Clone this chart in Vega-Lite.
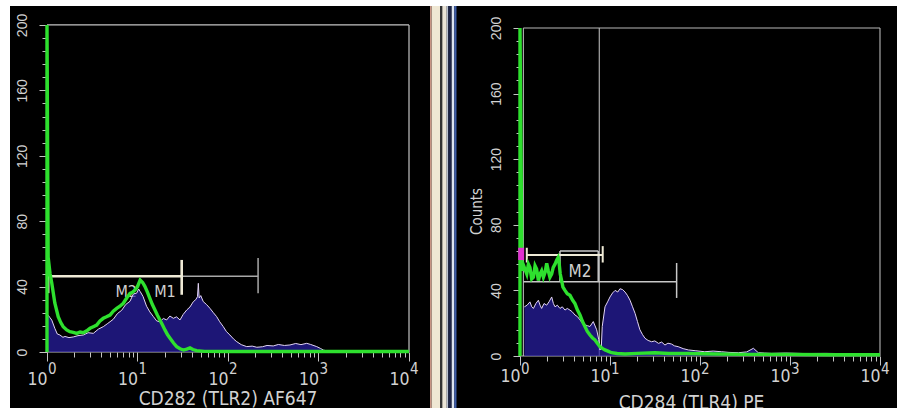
{
  "$schema": "https://vega.github.io/schema/vega-lite/v6.json",
  "background": "white",
  "padding": {"left": 10, "top": 6, "right": 0, "bottom": 0},
  "spacing": 0,
  "bounds": "flush",
  "config": {
    "font": "Liberation Sans Narrow, DejaVu Sans Condensed, Liberation Sans",
    "view": {"stroke": null, "fill": "black"},
    "axis": {"domain": false, "grid": false, "labelColor": "#d2d2d2", "tickColor": "#c4c4c4", "titleColor": "#d2d2d2", "titleFontWeight": "normal", "labelFlush": false, "labelOverlap": false, "labelBound": false}
  },
  "datasets": {
    "lblue": [
      {"x": 1.0, "y": 22}, {"x": 1.03, "y": 22.5}, {"x": 1.08, "y": 21}, {"x": 1.13, "y": 19.5}, {"x": 1.22, "y": 14.5}, {"x": 1.3, "y": 11}, {"x": 1.39, "y": 10.4}, {"x": 1.5, "y": 9}, {"x": 1.58, "y": 9.5}, {"x": 1.75, "y": 8.8}, {"x": 1.95, "y": 9.2}, {"x": 2.2, "y": 10}, {"x": 2.52, "y": 10.4}, {"x": 2.85, "y": 11.8}, {"x": 3.25, "y": 11.4}, {"x": 3.7, "y": 14}, {"x": 4.19, "y": 15.5}, {"x": 4.7, "y": 17.5}, {"x": 5.4, "y": 20}, {"x": 6.0, "y": 23.5}, {"x": 6.69, "y": 25.5}, {"x": 7.4, "y": 29}, {"x": 8.26, "y": 31}, {"x": 9.0, "y": 35.5}, {"x": 9.8, "y": 36}, {"x": 10.3, "y": 38.5}, {"x": 10.7, "y": 37}, {"x": 11.5, "y": 34}, {"x": 12.6, "y": 28}, {"x": 13.7, "y": 24.5}, {"x": 15.0, "y": 21.6}, {"x": 16.3, "y": 19}, {"x": 17.7, "y": 18.5}, {"x": 19.3, "y": 20.5}, {"x": 21.0, "y": 19.6}, {"x": 22.8, "y": 22}, {"x": 24.9, "y": 20.6}, {"x": 27, "y": 21.5}, {"x": 29.5, "y": 19.6}, {"x": 32, "y": 23}, {"x": 35, "y": 25.7}, {"x": 38, "y": 27.5}, {"x": 41.4, "y": 30.8}, {"x": 44, "y": 32}, {"x": 46, "y": 33.8}, {"x": 47, "y": 42}, {"x": 48, "y": 33}, {"x": 50, "y": 34.5}, {"x": 53.3, "y": 30.8}, {"x": 58, "y": 29}, {"x": 63.2, "y": 26.7}, {"x": 69, "y": 24}, {"x": 75, "y": 21.6}, {"x": 81, "y": 18.5}, {"x": 88.7, "y": 15.5}, {"x": 96, "y": 12.5}, {"x": 105, "y": 10.4}, {"x": 115, "y": 8}, {"x": 125, "y": 6.3}, {"x": 140, "y": 4.5}, {"x": 161, "y": 3.3}, {"x": 185, "y": 3.6}, {"x": 208, "y": 2.9}, {"x": 240, "y": 3.2}, {"x": 270, "y": 4}, {"x": 316, "y": 3.7}, {"x": 360, "y": 4.6}, {"x": 420, "y": 4.0}, {"x": 484, "y": 4.3}, {"x": 560, "y": 5.2}, {"x": 640, "y": 4.5}, {"x": 741, "y": 5.3}, {"x": 820, "y": 4.6}, {"x": 955, "y": 3.3}, {"x": 1050, "y": 2.2}, {"x": 1130, "y": 1.2}, {"x": 1340, "y": 0.2}, {"x": 2000, "y": 0.1}, {"x": 10000, "y": 0.1}
    ],
    "lgreen": [
      {"x": 1, "y": 0}, {"x": 1, "y": 200}, {"x": 1.03, "y": 58}, {"x": 1.08, "y": 48}, {"x": 1.13, "y": 42}, {"x": 1.22, "y": 30}, {"x": 1.33, "y": 21.6}, {"x": 1.42, "y": 18}, {"x": 1.51, "y": 15.5}, {"x": 1.65, "y": 13.5}, {"x": 1.79, "y": 12.4}, {"x": 1.95, "y": 12}, {"x": 2.13, "y": 11.4}, {"x": 2.32, "y": 12.2}, {"x": 2.52, "y": 11.8}, {"x": 2.75, "y": 13}, {"x": 2.99, "y": 14.5}, {"x": 3.25, "y": 15.5}, {"x": 3.54, "y": 16.5}, {"x": 3.85, "y": 19}, {"x": 4.19, "y": 20.6}, {"x": 4.55, "y": 21.5}, {"x": 4.97, "y": 22.6}, {"x": 5.4, "y": 25}, {"x": 5.89, "y": 26.7}, {"x": 6.4, "y": 28}, {"x": 6.97, "y": 29.8}, {"x": 7.6, "y": 33}, {"x": 8.26, "y": 35.9}, {"x": 8.8, "y": 36.5}, {"x": 9.4, "y": 37.9}, {"x": 10.0, "y": 40}, {"x": 10.7, "y": 44}, {"x": 11.4, "y": 42.5}, {"x": 12.1, "y": 40}, {"x": 12.9, "y": 36.5}, {"x": 13.7, "y": 32.8}, {"x": 14.6, "y": 29}, {"x": 15.6, "y": 25.7}, {"x": 16.6, "y": 22.5}, {"x": 17.7, "y": 19.6}, {"x": 18.9, "y": 16.5}, {"x": 20.1, "y": 13.5}, {"x": 21.5, "y": 10.5}, {"x": 22.9, "y": 8.4}, {"x": 25, "y": 5.5}, {"x": 27.1, "y": 3.3}, {"x": 29.5, "y": 2}, {"x": 32.2, "y": 1.2}, {"x": 35, "y": 1.8}, {"x": 38, "y": 2.5}, {"x": 41, "y": 1.5}, {"x": 45, "y": 0.8}, {"x": 55, "y": 0.4}, {"x": 100, "y": 0.3}, {"x": 1000, "y": 0.3}, {"x": 10000, "y": 0.3}
    ],
    "lsegs": [
      {"g": "frame", "x": 1, "y": 200, "x2": 10000, "y2": 200},
      {"g": "frame", "x": 10000, "y": 0, "x2": 10000, "y2": 200},
      {"g": "frame", "x": 1, "y": 0, "x2": 1, "y2": 200},
      {"g": "frame", "x": 1, "y": 0, "x2": 10000, "y2": 0},
      {"g": "gateA", "x": 1.03, "y": 46.3, "x2": 30.8, "y2": 46.3},
      {"g": "gateA", "x": 1.03, "y": 36, "x2": 1.03, "y2": 56},
      {"g": "gateA", "x": 30.8, "y": 35, "x2": 30.8, "y2": 56.3},
      {"g": "gateB", "x": 30.8, "y": 46.3, "x2": 215, "y2": 46.3},
      {"g": "gateB", "x": 215, "y": 36, "x2": 215, "y2": 57.5}
    ],
    "ltext": [
      {"x": 7.5, "y": 36.4, "t": "M2"},
      {"x": 20.1, "y": 36.4, "t": "M1"}
    ],
    "rblue": [
      {"x": 1.12, "y": 30}, {"x": 1.2, "y": 31}, {"x": 1.29, "y": 33}, {"x": 1.35, "y": 30}, {"x": 1.41, "y": 29}, {"x": 1.5, "y": 32}, {"x": 1.6, "y": 34}, {"x": 1.67, "y": 31}, {"x": 1.74, "y": 29}, {"x": 1.85, "y": 32}, {"x": 1.98, "y": 31}, {"x": 2.1, "y": 33}, {"x": 2.25, "y": 36}, {"x": 2.35, "y": 32}, {"x": 2.45, "y": 30}, {"x": 2.6, "y": 31}, {"x": 2.78, "y": 29}, {"x": 2.95, "y": 30}, {"x": 3.16, "y": 28}, {"x": 3.35, "y": 29}, {"x": 3.59, "y": 28}, {"x": 3.8, "y": 27}, {"x": 4.08, "y": 25}, {"x": 4.35, "y": 24}, {"x": 4.64, "y": 22}, {"x": 4.95, "y": 20}, {"x": 5.27, "y": 19}, {"x": 5.6, "y": 18.5}, {"x": 5.99, "y": 18}, {"x": 6.52, "y": 21}, {"x": 7.11, "y": 16}, {"x": 7.5, "y": 10}, {"x": 7.74, "y": 3.7}, {"x": 8.0, "y": 5}, {"x": 8.2, "y": 18}, {"x": 8.8, "y": 30}, {"x": 9.4, "y": 33}, {"x": 10, "y": 36}, {"x": 10.7, "y": 38.5}, {"x": 11.4, "y": 40}, {"x": 12.2, "y": 39}, {"x": 12.9, "y": 41}, {"x": 13.8, "y": 40.5}, {"x": 14.7, "y": 39}, {"x": 15.6, "y": 37}, {"x": 16.7, "y": 34}, {"x": 17.8, "y": 30}, {"x": 19, "y": 26}, {"x": 20.2, "y": 21}, {"x": 21.5, "y": 16}, {"x": 23, "y": 13}, {"x": 24.5, "y": 10.8}, {"x": 26.5, "y": 9.5}, {"x": 29, "y": 8.7}, {"x": 31.5, "y": 9.2}, {"x": 34.6, "y": 7.7}, {"x": 37.5, "y": 8.5}, {"x": 40.8, "y": 6.7}, {"x": 44, "y": 7.8}, {"x": 48.3, "y": 7.3}, {"x": 52, "y": 6.2}, {"x": 57.2, "y": 5.7}, {"x": 65, "y": 4.5}, {"x": 74.3, "y": 3.7}, {"x": 90, "y": 3.2}, {"x": 113, "y": 2.6}, {"x": 140, "y": 3}, {"x": 174, "y": 2.6}, {"x": 210, "y": 2.2}, {"x": 267, "y": 2}, {"x": 330, "y": 2.5}, {"x": 392, "y": 4.7}, {"x": 445, "y": 2}, {"x": 520, "y": 1.8}, {"x": 625, "y": 1.6}, {"x": 900, "y": 1.8}, {"x": 1460, "y": 1.5}, {"x": 2500, "y": 1.6}, {"x": 5000, "y": 1.4}, {"x": 10000, "y": 1.4}
    ],
    "rgreen": [
      {"x": 1, "y": 0}, {"x": 1, "y": 200}, {"x": 1.05, "y": 52}, {"x": 1.1, "y": 55}, {"x": 1.19, "y": 50}, {"x": 1.24, "y": 56}, {"x": 1.29, "y": 54}, {"x": 1.35, "y": 47}, {"x": 1.41, "y": 48}, {"x": 1.47, "y": 55}, {"x": 1.53, "y": 53}, {"x": 1.6, "y": 46}, {"x": 1.67, "y": 50}, {"x": 1.74, "y": 52}, {"x": 1.82, "y": 48}, {"x": 1.9, "y": 51}, {"x": 1.98, "y": 56.5}, {"x": 2.06, "y": 52}, {"x": 2.15, "y": 48}, {"x": 2.25, "y": 50}, {"x": 2.34, "y": 54}, {"x": 2.45, "y": 56}, {"x": 2.56, "y": 58.5}, {"x": 2.65, "y": 60}, {"x": 2.71, "y": 57.5}, {"x": 2.8, "y": 50}, {"x": 2.9, "y": 46}, {"x": 3.0, "y": 42}, {"x": 3.16, "y": 40}, {"x": 3.35, "y": 38}, {"x": 3.59, "y": 37}, {"x": 3.85, "y": 34}, {"x": 4.08, "y": 32}, {"x": 4.35, "y": 28}, {"x": 4.64, "y": 25}, {"x": 4.95, "y": 21}, {"x": 5.27, "y": 18}, {"x": 5.6, "y": 15}, {"x": 5.99, "y": 12.8}, {"x": 6.4, "y": 11}, {"x": 6.81, "y": 9.8}, {"x": 7.2, "y": 8}, {"x": 7.74, "y": 5.7}, {"x": 8.3, "y": 4.5}, {"x": 8.8, "y": 3.7}, {"x": 9.5, "y": 3}, {"x": 10.4, "y": 2}, {"x": 12, "y": 1.5}, {"x": 14.7, "y": 1.2}, {"x": 20, "y": 1.6}, {"x": 31.6, "y": 2}, {"x": 45, "y": 1.5}, {"x": 74, "y": 1.5}, {"x": 150, "y": 1.2}, {"x": 300, "y": 1.0}, {"x": 1000, "y": 1.0}, {"x": 3000, "y": 0.8}, {"x": 10000, "y": 0.8}
    ],
    "rsegs": [
      {"g": "frame", "x": 1.09, "y": 200, "x2": 10000, "y2": 200},
      {"g": "frame", "x": 10000, "y": 0, "x2": 10000, "y2": 200},
      {"g": "frame", "x": 1.09, "y": 0, "x2": 1.09, "y2": 200},
      {"g": "frame", "x": 1, "y": 0, "x2": 10000, "y2": 0},
      {"g": "frame", "x": 7.6, "y": 0, "x2": 7.6, "y2": 200},
      {"g": "gateA", "x": 1.19, "y": 61.6, "x2": 8.3, "y2": 61.6},
      {"g": "gateA", "x": 1.19, "y": 57, "x2": 1.19, "y2": 66},
      {"g": "gateA", "x": 8.3, "y": 57, "x2": 8.3, "y2": 67},
      {"g": "gateB", "x": 1.09, "y": 45.3, "x2": 55, "y2": 45.3},
      {"g": "gateB", "x": 55, "y": 35.4, "x2": 55, "y2": 56.7},
      {"g": "gateB", "x": 2.78, "y": 45.3, "x2": 2.78, "y2": 64},
      {"g": "gateB", "x": 2.78, "y": 64, "x2": 7.4, "y2": 64},
      {"g": "gateB", "x": 7.4, "y": 64, "x2": 7.4, "y2": 45.3},
      {"g": "pink", "x": 1.03, "y": 58.5, "x2": 1.03, "y2": 66}
    ],
    "rtext": [
      {"x": 4.64, "y": 51.4, "t": "M2"}
    ],
    "stripe": [
      {"a": 0, "b": 1.7, "c": "edge"},
      {"a": 1.7, "b": 10, "c": "cream"},
      {"a": 10, "b": 12.3, "c": "dark"},
      {"a": 12.3, "b": 16.7, "c": "light"},
      {"a": 16.7, "b": 18.3, "c": "grey"},
      {"a": 18.3, "b": 21.7, "c": "navy"},
      {"a": 21.7, "b": 24.3, "c": "pale"},
      {"a": 24.3, "b": 26.7, "c": "blue"},
      {"a": 26.7, "b": 27, "c": "black"}
    ]
  },
  "hconcat": [
    {
      "width": 420,
      "height": 402,
      "resolve": {"axis": {"x": "independent"}},
      "encoding": {
        "x": {"field": "x", "type": "quantitative", "scale": {"type": "log", "domain": [0.3902, 17061], "nice": false}, "axis": null},
        "y": {"field": "y", "type": "quantitative", "scale": {"domain": [-34.25, 211.6], "nice": false, "zero": false},
          "axis": {"values": [0,8,16,24,32,40,48,56,64,72,80,88,96,104,112,120,128,136,144,152,160,168,176,184,192,200],
            "labelExpr": "datum.value % 40 === 0 ? datum.value : ''",
            "tickSize": {"condition": {"test": "datum.value % 40 === 0", "value": 8}, "value": 5},
            "offset": -37, "labelAngle": 270, "labelAlign": "center", "labelBaseline": "bottom", "labelFont": "Liberation Sans", "labelFontSize": 14, "labelPadding": 10,
            "title": null}}
      },
      "layer": [
        {"data": {"name": "lsegs"}, "transform": [{"filter": "datum.g === 'frame'"}], "mark": {"type": "rule", "color": "#c4c4c4", "strokeWidth": 1.2},
          "encoding": {
            "x": {"field": "x", "type": "quantitative", "scale": {"type": "log", "domain": [0.3902, 17061], "nice": false},
              "axis": {"orient": "bottom", "values": [1,2,3,4,5,6,7,8,9,10,20,30,40,50,60,70,80,90,100,200,300,400,500,600,700,800,900,1000,2000,3000,4000,5000,6000,7000,8000,9000,10000],
                "labelExpr": "indexof([1,10,100,1000,10000], datum.value) >= 0 ? '10' : ''",
                "tickSize": {"condition": {"test": "indexof([1,10,100,1000,10000], datum.value) >= 0", "value": 9}, "value": 5},
                "offset": -56, "labelFontSize": 17.5, "labelPadding": 9, "labelAlign": "right",
                "title": "CD282 (TLR2) AF647", "titleFontSize": 19, "titleX": 217.5, "titleY": 46.5, "titleBaseline": "middle"}},
            "x2": {"field": "x2"}, "y2": {"field": "y2"}}},
        {"data": {"name": "ltext"}, "mark": {"type": "text", "color": "#cfcfcf", "fontSize": 16, "align": "center", "baseline": "middle"}, "encoding": {"text": {"field": "t"}}},
        {"data": {"name": "lblue"}, "mark": {"type": "area", "color": "#2a1fa8", "line": {"color": "#e2d4f4", "strokeWidth": 1}}},
        {"data": {"name": "lsegs"}, "transform": [{"filter": "datum.g === 'gateB'"}], "mark": {"type": "rule", "color": "#a8a8a8", "strokeWidth": 1.5}, "encoding": {"x2": {"field": "x2"}, "y2": {"field": "y2"}}},
        {"data": {"name": "lsegs"}, "transform": [{"filter": "datum.g === 'gateA'"}], "mark": {"type": "rule", "color": "#efead6", "strokeWidth": 2.6}, "encoding": {"x2": {"field": "x2"}, "y2": {"field": "y2"}}},
        {"data": {"name": "lgreen"}, "mark": {"type": "line", "color": "#2ee02e", "strokeWidth": 3.4},
          "encoding": {
            "x": {"field": "x", "type": "quantitative", "scale": {"type": "log", "domain": [0.3902, 17061], "nice": false},
              "axis": {"orient": "bottom", "values": [1,10,100,1000,10000],
                "labelExpr": "datum.value == 1 ? '0' : datum.value == 10 ? '1' : datum.value == 100 ? '2' : datum.value == 1000 ? '3' : '4'",
                "ticks": false, "tickSize": 0, "offset": -56, "labelFontSize": 15, "labelPadding": 9.5, "labelAlign": "left", "labelOffset": 0.5,
                "title": null}}}}
      ]
    },
    {
      "width": 27,
      "height": 402,
      "data": {"name": "stripe"},
      "mark": {"type": "rect"},
      "encoding": {
        "x": {"field": "a", "type": "quantitative", "scale": {"domain": [0, 27], "nice": false, "zero": false}, "axis": null},
        "x2": {"field": "b"},
        "color": {"field": "c", "type": "nominal", "legend": null,
          "scale": {"domain": ["edge", "cream", "dark", "light", "grey", "navy", "pale", "blue", "black"],
                    "range": ["#c89484", "#efe7d3", "#333333", "#ebe5d7", "#b8c0d0", "#1c2448", "#dce4f0", "#3c5ca8", "#050505"]}}
      }
    },
    {
      "width": 440,
      "height": 402,
      "resolve": {"axis": {"x": "independent"}},
      "encoding": {
        "x": {"field": "x", "type": "quantitative", "scale": {"type": "log", "domain": [0.19953, 15450], "nice": false}, "axis": null},
        "y": {"field": "y", "type": "quantitative", "scale": {"domain": [-31.7, 213.4], "nice": false, "zero": false},
          "axis": {"values": [0,8,16,24,32,40,48,56,64,72,80,88,96,104,112,120,128,136,144,152,160,168,176,184,192,200],
            "labelExpr": "datum.value % 40 === 0 ? datum.value : ''",
            "tickSize": {"condition": {"test": "datum.value % 40 === 0", "value": 7}, "value": 4},
            "offset": -63, "labelAngle": 270, "labelAlign": "center", "labelBaseline": "bottom", "labelFont": "Liberation Sans", "labelFontSize": 14, "labelPadding": 10,
            "title": "Counts", "titleFontSize": 15, "titleAngle": 270, "titleX": -44, "titleY": 205, "titleAlign": "center", "titleBaseline": "middle"}}
      },
      "layer": [
        {"data": {"name": "rsegs"}, "transform": [{"filter": "datum.g === 'frame'"}], "mark": {"type": "rule", "color": "#b8b8b8", "strokeWidth": 1.1},
          "encoding": {
            "x": {"field": "x", "type": "quantitative", "scale": {"type": "log", "domain": [0.19953, 15450], "nice": false},
              "axis": {"orient": "bottom", "values": [1,2,3,4,5,6,7,8,9,10,20,30,40,50,60,70,80,90,100,200,300,400,500,600,700,800,900,1000,2000,3000,4000,5000,6000,7000,8000,9000,10000],
                "labelExpr": "indexof([1,10,100,1000,10000], datum.value) >= 0 ? '10' : ''",
                "tickSize": {"condition": {"test": "indexof([1,10,100,1000,10000], datum.value) >= 0", "value": 9}, "value": 5},
                "offset": -52, "labelFontSize": 17.5, "labelPadding": 2, "labelAlign": "right",
                "title": "CD284 (TLR4) PE", "titleFontSize": 19, "titleX": 234, "titleY": 46.5, "titleBaseline": "middle"}},
            "x2": {"field": "x2"}, "y2": {"field": "y2"}}},
        {"data": {"name": "rblue"}, "mark": {"type": "area", "color": "#2a1fa8", "line": {"color": "#e2d4f4", "strokeWidth": 1}}},
        {"data": {"name": "rsegs"}, "transform": [{"filter": "datum.g === 'gateB'"}], "mark": {"type": "rule", "color": "#c8c8c8", "strokeWidth": 1.5}, "encoding": {"x2": {"field": "x2"}, "y2": {"field": "y2"}}},
        {"data": {"name": "rsegs"}, "transform": [{"filter": "datum.g === 'gateA'"}], "mark": {"type": "rule", "color": "#efead6", "strokeWidth": 2}, "encoding": {"x2": {"field": "x2"}, "y2": {"field": "y2"}}},
        {"data": {"name": "rtext"}, "mark": {"type": "text", "color": "#cfcfcf", "fontSize": 17, "align": "center", "baseline": "middle"}, "encoding": {"text": {"field": "t"}}},
        {"data": {"name": "rgreen"}, "mark": {"type": "line", "color": "#2ee02e", "strokeWidth": 3.4},
          "encoding": {
            "x": {"field": "x", "type": "quantitative", "scale": {"type": "log", "domain": [0.19953, 15450], "nice": false},
              "axis": {"orient": "bottom", "values": [1,10,100,1000,10000],
                "labelExpr": "datum.value == 1 ? '0' : datum.value == 10 ? '1' : datum.value == 100 ? '2' : datum.value == 1000 ? '3' : '4'",
                "ticks": false, "tickSize": 0, "offset": -52, "labelFontSize": 15, "labelPadding": 5, "labelAlign": "left", "labelOffset": 0.5,
                "title": null}}}},
        {"data": {"name": "rsegs"}, "transform": [{"filter": "datum.g === 'pink'"}], "mark": {"type": "rule", "color": "#e030d0", "strokeWidth": 6}, "encoding": {"x2": {"field": "x2"}, "y2": {"field": "y2"}}}
      ]
    }
  ]
}
